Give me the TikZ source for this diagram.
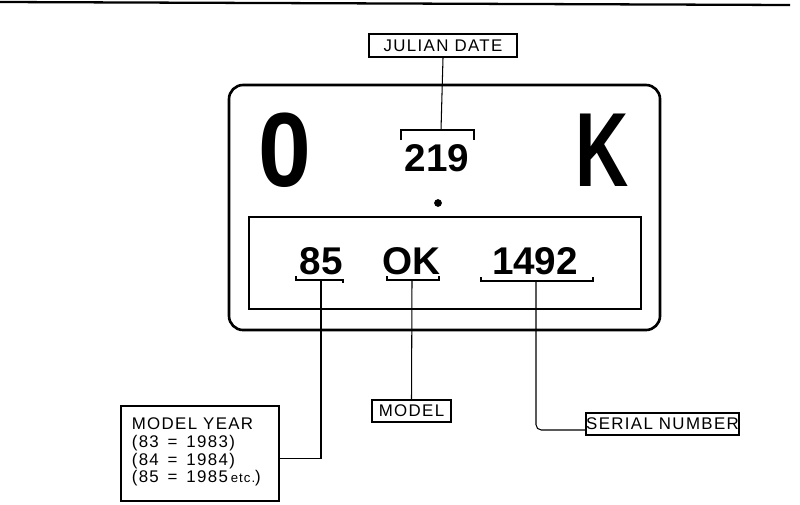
\documentclass[tikz,border=0pt]{standalone}
\usepackage{fontspec}
\setmainfont{Liberation Sans}
\newfontfamily\tagfont[LetterSpace=8]{Liberation Sans}
\usetikzlibrary{calc}

\tikzset{
  tagbox/.style={draw,line width=0.9pt,inner sep=0pt,font=\tagfont\fontsize{9.6}{9.6}\selectfont},
  plateno/.style={anchor=base,font=\fontsize{22}{22}\selectfont\bfseries},
  bigletter/.style={anchor=base,font=\fontsize{60}{60}\selectfont\bfseries},
  lead/.style={line width=0.6pt},
  brace/.style={line width=0.7pt}
}

\begin{document}
\begin{tikzpicture}[x=0.02cm,y=-0.02cm]
\useasboundingbox (0,0) rectangle (800,504);
% rule along the top of the page
\draw[line width=1.3pt] (0,2) -- (790,5);

% the plate
\draw[line width=1.5pt,rounded corners=8pt] (229,85) rectangle (660,330);
\draw[line width=1.3pt] (249,217) rectangle (641,309);
\node[bigletter,xscale=0.9] (bigO) at (285,186) {0};
\node[bigletter,xscale=0.7] (bigK) at (602,186) {K};
\node[plateno] (julian) at (437,171) {219};
\fill (438,203) circle (2.2pt);
\node[plateno] (year) at (321,274) {85};
\node[plateno] (model) at (411,274) {OK};
\node[plateno] (serial) at (535,274) {1492};

% brackets over and under the numbers
\draw[brace] (401,140) -- (401,130) -- (474,130) -- (474,140);
\draw[brace] (296,276) -- (296,280) -- (343,280) -- (343,283);
\draw[brace] (387,276) -- (387,280) -- (439,280) -- (439,276);
\draw[brace] (481,277) -- (481,281) -- (593,281) -- (593,277);
\coordinate (julianTick) at (441,130);
\coordinate (yearTick) at (321,280);
\coordinate (modelTick) at (412,280);
\coordinate (serialTick) at (536,281);

% labels
\node[tagbox,minimum width=2.96cm,minimum height=0.46cm] (julianLabel) at (443,45.5) {JULIAN DATE};
\node[tagbox,minimum width=1.58cm,minimum height=0.44cm] (modelLabel) at (411.5,411) {MODEL};
\node[tagbox,minimum width=3.02cm,minimum height=0.44cm] (serialLabel) at (662.5,424) {SERIAL NUMBER};
\node[tagbox,anchor=north west,minimum width=3.16cm,minimum height=1.9cm,inner xsep=0.22cm] (yearLabel) at (120,405)
  {\parbox[c][1.9cm][t]{2.72cm}{\fontsize{9.6}{8.6}\selectfont\vspace*{7pt}MODEL YEAR\\[1.5pt](83\,\ =\ \,1983)\\(84\,\ =\ \,1984)\\(85\,\ =\ \,1985\,{\fontsize{7.5}{7.5}\selectfont etc.})}};

% leaders
\draw[lead] (julianLabel.south) -- (julianTick);
\draw[lead] (yearTick) |- ($(yearLabel.east)+(0,5.5)$);
\draw[lead] (modelTick) -- (modelLabel.north);
\draw[lead,rounded corners=3pt] (serialTick) |- ($(serialLabel.west)+(0,6)$);
\end{tikzpicture}
\end{document}
